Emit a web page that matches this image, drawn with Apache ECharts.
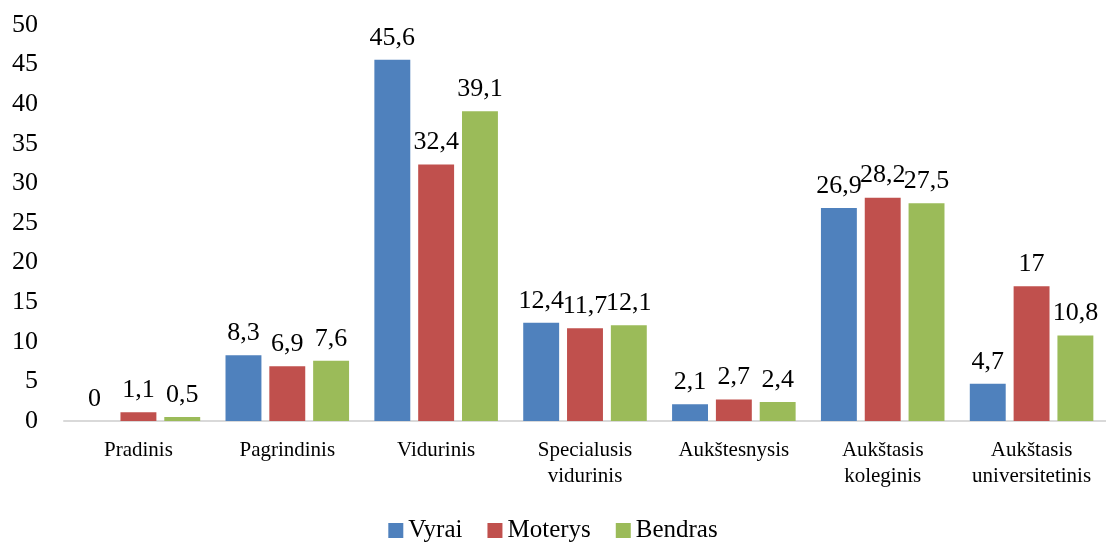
<!DOCTYPE html>
<html>
<head>
<meta charset="utf-8">
<script src="https://cdn.jsdelivr.net/npm/echarts@6/dist/echarts.min.js"></script>
<style>
  html, body { margin: 0; padding: 0; background: #fff; }
  #chart { width: 1106px; height: 542px; }
</style>
</head>
<body>
<div id="chart"></div>
<script>
const categories = ['Pradinis', 'Pagrindinis', 'Vidurinis', 'Specialusis\nvidurinis', 'Aukštesnysis', 'Aukštasis\nkoleginis', 'Aukštasis\nuniversitetinis']
const vyrai = [0, 8.3, 45.6, 12.4, 2.1, 26.9, 4.7]
const moterys = [1.1, 6.9, 32.4, 11.7, 2.7, 28.2, 17]
const bendras = [0.5, 7.6, 39.1, 12.1, 2.4, 27.5, 10.8]
const legendNames = ['Vyrai', 'Moterys', 'Bendras']

const font = 'Liberation Serif'

// kablelis vietoj taško
const fmt = (p) => String(p.value).replace('.', ',')

const mkSeries = (name, data, color) => ({
  name,
  type: 'bar',
  data,
  barGap: '22%',
  barCategoryGap: '17%',
  itemStyle: { color },
  label: {
    show: true,
    position: 'top',
    distance: 9,
    formatter: fmt,
    fontFamily: font,
    fontSize: 26,
    color: '#000'
  }
})

const chart = echarts.init(document.getElementById('chart'))
chart.setOption({
  animation: false,
  textStyle: { fontFamily: font },
  legend: {
    bottom: -6,
    itemWidth: 15,
    itemHeight: 15,
    itemGap: 25,
    icon: 'rect',
    textStyle: { fontFamily: font, fontSize: 25, color: '#000' },
    data: legendNames
  },
  grid: {
    left: 64,
    right: -6,
    top: 25,
    bottom: 121
  },
  xAxis: {
    type: 'category',
    data: categories,
    axisLine: { lineStyle: { color: '#d9d9d9', width: 2 } },
    axisTick: { show: false },
    axisLabel: {
      interval: 0,
      fontFamily: font,
      fontSize: 21,
      lineHeight: 26,
      color: '#000',
      margin: 16
    }
  },
  yAxis: {
    type: 'value',
    min: 0,
    max: 50,
    interval: 5,
    splitLine: { show: false },
    axisLine: { show: false },
    axisLabel: {
      fontFamily: font,
      fontSize: 26,
      color: '#000',
      margin: 26
    }
  },
  series: [
    mkSeries(legendNames[0], vyrai, '#4F81BD'),
    mkSeries(legendNames[1], moterys, '#C0504D'),
    mkSeries(legendNames[2], bendras, '#9BBB59')
  ]
})
</script>
</body>
</html>
